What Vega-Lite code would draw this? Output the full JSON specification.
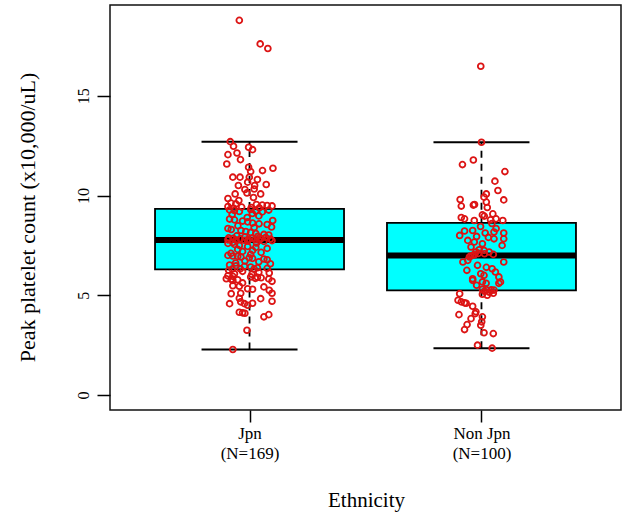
{
  "$schema": "https://vega.github.io/schema/vega-lite/v6.json",
  "width": 511,
  "height": 405,
  "autosize": {"type": "none"},
  "padding": {"left": 110, "top": 5, "right": 5, "bottom": 107},
  "background": "white",
  "config": {
    "font": "Liberation Serif",
    "view": {"stroke": "#111111", "strokeWidth": 1.5},
    "axis": {"labelFont": "Liberation Serif", "titleFont": "Liberation Serif"},
    "axisY": {
      "labelAngle": -90,
      "labelAlign": "center",
      "labelBaseline": "alphabetic",
      "labelFontSize": 16,
      "labelColor": "#000000",
      "labelPadding": 9,
      "tickSize": 13,
      "tickWidth": 1.5,
      "tickColor": "#000000",
      "domain": false,
      "grid": false,
      "titleFont": "Liberation Serif",
      "titleFontSize": 22,
      "titleFontWeight": "normal",
      "titleColor": "#000000",
      "titleAngle": -90,
      "titleX": -83,
      "titleY": 212,
      "titleAlign": "center",
      "titleBaseline": "middle"
    }
  },
  "datasets": {
    "box": [
      {"group": "Jpn", "pos": 1, "lo": 2.28, "q1": 6.3, "med": 7.77, "q3": 9.33, "hi": 12.7},
      {"group": "Non Jpn", "pos": 2, "lo": 2.35, "q1": 5.25, "med": 7.0, "q3": 8.63, "hi": 12.67}
    ],
    "pts": [
      {"group":"Jpn","pos":0.956,"value":18.78},{"group":"Jpn","pos":1.046,"value":17.6},{"group":"Jpn","pos":1.079,"value":17.37},
      {"group":"Jpn","pos":0.917,"value":12.7},{"group":"Jpn","pos":0.931,"value":12.47},{"group":"Jpn","pos":0.996,"value":12.42},
      {"group":"Jpn","pos":1.013,"value":12.3},{"group":"Jpn","pos":0.946,"value":12.13},{"group":"Jpn","pos":0.907,"value":12.05},
      {"group":"Jpn","pos":0.961,"value":11.8},{"group":"Jpn","pos":0.902,"value":11.58},{"group":"Jpn","pos":0.996,"value":11.42},
      {"group":"Jpn","pos":1.056,"value":11.25},{"group":"Jpn","pos":1.101,"value":11.37},{"group":"Jpn","pos":1.005,"value":11.2},
      {"group":"Jpn","pos":0.928,"value":10.92},{"group":"Jpn","pos":0.959,"value":10.92},{"group":"Jpn","pos":0.999,"value":10.92},
      {"group":"Jpn","pos":1.034,"value":10.8},{"group":"Jpn","pos":0.992,"value":10.67},{"group":"Jpn","pos":0.952,"value":10.5},
      {"group":"Jpn","pos":1.022,"value":10.5},{"group":"Jpn","pos":1.072,"value":10.55},{"group":"Jpn","pos":0.98,"value":10.3},
      {"group":"Jpn","pos":1.02,"value":10.33},{"group":"Jpn","pos":0.938,"value":10.08},{"group":"Jpn","pos":0.989,"value":10.13},
      {"group":"Jpn","pos":1.048,"value":10.08},{"group":"Jpn","pos":0.954,"value":9.75},{"group":"Jpn","pos":0.92,"value":9.62},
      {"group":"Jpn","pos":0.941,"value":9.58},{"group":"Jpn","pos":1.03,"value":9.55},{"group":"Jpn","pos":1.055,"value":9.52},
      {"group":"Jpn","pos":1.076,"value":9.5},{"group":"Jpn","pos":1.097,"value":9.48},{"group":"Jpn","pos":0.907,"value":9.45},
      {"group":"Jpn","pos":0.966,"value":9.42},{"group":"Jpn","pos":1.008,"value":9.4},{"group":"Jpn","pos":1.042,"value":9.38},
      {"group":"Jpn","pos":1.017,"value":9.9},{"group":"Jpn","pos":0.907,"value":9.85},{"group":"Jpn","pos":0.932,"value":9.36},
      {"group":"Jpn","pos":0.914,"value":9.28},{"group":"Jpn","pos":0.935,"value":9.25},{"group":"Jpn","pos":0.956,"value":9.2},
      {"group":"Jpn","pos":1.005,"value":9.3},{"group":"Jpn","pos":1.027,"value":9.22},{"group":"Jpn","pos":1.055,"value":9.18},
      {"group":"Jpn","pos":1.083,"value":9.27},{"group":"Jpn","pos":0.925,"value":9.05},{"group":"Jpn","pos":1.04,"value":8.98},
      {"group":"Jpn","pos":0.99,"value":8.9},{"group":"Jpn","pos":0.914,"value":8.82},{"group":"Jpn","pos":0.935,"value":8.78},
      {"group":"Jpn","pos":0.97,"value":8.72},{"group":"Jpn","pos":0.992,"value":8.68},{"group":"Jpn","pos":1.013,"value":8.62},
      {"group":"Jpn","pos":1.041,"value":8.58},{"group":"Jpn","pos":1.076,"value":8.55},{"group":"Jpn","pos":0.95,"value":8.48},
      {"group":"Jpn","pos":1.095,"value":8.42},{"group":"Jpn","pos":0.907,"value":8.35},{"group":"Jpn","pos":0.921,"value":8.3},
      {"group":"Jpn","pos":0.963,"value":8.25},{"group":"Jpn","pos":0.984,"value":8.2},{"group":"Jpn","pos":1.005,"value":8.15},
      {"group":"Jpn","pos":1.027,"value":8.1},{"group":"Jpn","pos":1.062,"value":8.05},{"group":"Jpn","pos":1.083,"value":8.02},
      {"group":"Jpn","pos":0.945,"value":7.98},{"group":"Jpn","pos":1.035,"value":7.95},{"group":"Jpn","pos":0.98,"value":7.92},
      {"group":"Jpn","pos":1.07,"value":7.9},{"group":"Jpn","pos":0.91,"value":7.88},{"group":"Jpn","pos":1.01,"value":7.86},
      {"group":"Jpn","pos":0.93,"value":7.85},{"group":"Jpn","pos":1.05,"value":7.84},{"group":"Jpn","pos":0.96,"value":7.83},
      {"group":"Jpn","pos":1.09,"value":7.82},{"group":"Jpn","pos":0.995,"value":7.81},{"group":"Jpn","pos":1.025,"value":7.8},
      {"group":"Jpn","pos":1.1,"value":8.75},{"group":"Jpn","pos":1.012,"value":9.1},{"group":"Jpn","pos":1.02,"value":8.4},
      {"group":"Jpn","pos":0.907,"value":7.78},{"group":"Jpn","pos":0.942,"value":7.77},{"group":"Jpn","pos":0.978,"value":7.76},
      {"group":"Jpn","pos":1.041,"value":7.75},{"group":"Jpn","pos":1.097,"value":7.74},{"group":"Jpn","pos":0.992,"value":7.72},
      {"group":"Jpn","pos":1.062,"value":7.7},{"group":"Jpn","pos":0.928,"value":7.65},{"group":"Jpn","pos":0.907,"value":7.6},
      {"group":"Jpn","pos":0.935,"value":7.55},{"group":"Jpn","pos":0.956,"value":7.5},{"group":"Jpn","pos":0.992,"value":7.45},
      {"group":"Jpn","pos":1.027,"value":7.4},{"group":"Jpn","pos":1.076,"value":7.35},{"group":"Jpn","pos":0.949,"value":7.3},
      {"group":"Jpn","pos":1.013,"value":7.25},{"group":"Jpn","pos":0.97,"value":7.2},{"group":"Jpn","pos":1.05,"value":7.15},
      {"group":"Jpn","pos":0.92,"value":7.1},{"group":"Jpn","pos":1.005,"value":7.05},{"group":"Jpn","pos":0.907,"value":7.0},
      {"group":"Jpn","pos":0.928,"value":6.97},{"group":"Jpn","pos":0.949,"value":6.95},{"group":"Jpn","pos":0.963,"value":6.92},
      {"group":"Jpn","pos":0.999,"value":6.88},{"group":"Jpn","pos":1.013,"value":6.85},{"group":"Jpn","pos":1.062,"value":6.82},
      {"group":"Jpn","pos":1.076,"value":6.78},{"group":"Jpn","pos":0.98,"value":6.72},{"group":"Jpn","pos":1.04,"value":6.68},
      {"group":"Jpn","pos":0.94,"value":6.62},{"group":"Jpn","pos":1.09,"value":6.58},{"group":"Jpn","pos":0.914,"value":6.52},
      {"group":"Jpn","pos":0.942,"value":6.48},{"group":"Jpn","pos":0.978,"value":6.45},{"group":"Jpn","pos":1.005,"value":6.42},
      {"group":"Jpn","pos":1.034,"value":6.38},{"group":"Jpn","pos":1.076,"value":6.35},{"group":"Jpn","pos":0.96,"value":6.33},
      {"group":"Jpn","pos":1.02,"value":6.32},{"group":"Jpn","pos":0.925,"value":6.31},{"group":"Jpn","pos":1.03,"value":7.62},
      {"group":"Jpn","pos":0.91,"value":6.25},{"group":"Jpn","pos":0.97,"value":6.2},{"group":"Jpn","pos":1.04,"value":6.15},
      {"group":"Jpn","pos":1.085,"value":6.12},{"group":"Jpn","pos":0.935,"value":6.08},{"group":"Jpn","pos":1.01,"value":6.05},
      {"group":"Jpn","pos":0.907,"value":5.98},{"group":"Jpn","pos":0.928,"value":5.95},{"group":"Jpn","pos":1.005,"value":5.92},
      {"group":"Jpn","pos":1.034,"value":5.9},{"group":"Jpn","pos":1.05,"value":5.88},{"group":"Jpn","pos":1.025,"value":5.85},
      {"group":"Jpn","pos":0.9,"value":5.83},{"group":"Jpn","pos":1.083,"value":5.82},{"group":"Jpn","pos":0.921,"value":5.8},
      {"group":"Jpn","pos":0.949,"value":5.78},{"group":"Jpn","pos":0.928,"value":5.75},{"group":"Jpn","pos":1.097,"value":5.7},
      {"group":"Jpn","pos":0.97,"value":5.62},{"group":"Jpn","pos":0.928,"value":5.48},{"group":"Jpn","pos":0.956,"value":5.45},
      {"group":"Jpn","pos":1.062,"value":5.42},{"group":"Jpn","pos":0.992,"value":5.33},{"group":"Jpn","pos":1.013,"value":5.3},
      {"group":"Jpn","pos":1.085,"value":5.25},{"group":"Jpn","pos":1.097,"value":5.1},{"group":"Jpn","pos":0.921,"value":5.08},
      {"group":"Jpn","pos":0.962,"value":5.1},{"group":"Jpn","pos":0.956,"value":4.85},{"group":"Jpn","pos":1.048,"value":4.83},
      {"group":"Jpn","pos":1.097,"value":4.7},{"group":"Jpn","pos":0.914,"value":4.58},{"group":"Jpn","pos":0.962,"value":4.67},
      {"group":"Jpn","pos":0.978,"value":4.58},{"group":"Jpn","pos":0.992,"value":4.5},{"group":"Jpn","pos":1.013,"value":4.6},
      {"group":"Jpn","pos":0.956,"value":4.15},{"group":"Jpn","pos":0.97,"value":4.12},{"group":"Jpn","pos":0.98,"value":4.1},
      {"group":"Jpn","pos":1.062,"value":3.92},{"group":"Jpn","pos":1.083,"value":4.03},{"group":"Jpn","pos":0.989,"value":3.25},
      {"group":"Jpn","pos":0.928,"value":2.28},
      {"group":"Non Jpn","pos":1.997,"value":16.48},{"group":"Non Jpn","pos":2.0,"value":12.67},{"group":"Non Jpn","pos":1.965,"value":11.78},
      {"group":"Non Jpn","pos":1.918,"value":11.55},{"group":"Non Jpn","pos":2.101,"value":11.2},{"group":"Non Jpn","pos":2.058,"value":10.72},
      {"group":"Non Jpn","pos":2.071,"value":10.25},{"group":"Non Jpn","pos":2.021,"value":10.08},{"group":"Non Jpn","pos":2.096,"value":9.78},
      {"group":"Non Jpn","pos":1.908,"value":9.8},{"group":"Non Jpn","pos":2.011,"value":9.92},{"group":"Non Jpn","pos":1.965,"value":9.52},
      {"group":"Non Jpn","pos":1.97,"value":9.55},{"group":"Non Jpn","pos":1.913,"value":9.47},{"group":"Non Jpn","pos":2.021,"value":9.67},
      {"group":"Non Jpn","pos":2.025,"value":9.4},{"group":"Non Jpn","pos":2.049,"value":9.08},{"group":"Non Jpn","pos":2.004,"value":9.03},
      {"group":"Non Jpn","pos":2.012,"value":8.97},{"group":"Non Jpn","pos":1.913,"value":8.9},{"group":"Non Jpn","pos":1.927,"value":8.83},
      {"group":"Non Jpn","pos":2.063,"value":8.83},{"group":"Non Jpn","pos":2.092,"value":8.75},{"group":"Non Jpn","pos":1.969,"value":8.75},
      {"group":"Non Jpn","pos":2.039,"value":8.78},{"group":"Non Jpn","pos":2.045,"value":8.6},{"group":"Non Jpn","pos":1.927,"value":8.22},
      {"group":"Non Jpn","pos":1.906,"value":8.0},{"group":"Non Jpn","pos":1.962,"value":8.25},{"group":"Non Jpn","pos":2.016,"value":8.12},
      {"group":"Non Jpn","pos":2.054,"value":8.17},{"group":"Non Jpn","pos":2.096,"value":8.12},{"group":"Non Jpn","pos":2.096,"value":7.83},
      {"group":"Non Jpn","pos":1.941,"value":7.75},{"group":"Non Jpn","pos":1.969,"value":7.67},{"group":"Non Jpn","pos":2.004,"value":7.58},
      {"group":"Non Jpn","pos":2.054,"value":7.83},{"group":"Non Jpn","pos":2.089,"value":7.5},{"group":"Non Jpn","pos":1.955,"value":7.42},
      {"group":"Non Jpn","pos":1.99,"value":7.28},{"group":"Non Jpn","pos":2.011,"value":7.25},{"group":"Non Jpn","pos":1.976,"value":7.17},
      {"group":"Non Jpn","pos":2.033,"value":7.17},{"group":"Non Jpn","pos":1.987,"value":7.1},{"group":"Non Jpn","pos":2.013,"value":7.08},
      {"group":"Non Jpn","pos":2.051,"value":7.05},{"group":"Non Jpn","pos":1.97,"value":7.03},{"group":"Non Jpn","pos":1.996,"value":8.45},
      {"group":"Non Jpn","pos":2.063,"value":8.35},{"group":"Non Jpn","pos":1.979,"value":7.95},{"group":"Non Jpn","pos":2.03,"value":7.9},
      {"group":"Non Jpn","pos":1.962,"value":7.0},{"group":"Non Jpn","pos":1.954,"value":6.98},{"group":"Non Jpn","pos":1.948,"value":6.92},
      {"group":"Non Jpn","pos":1.941,"value":6.75},{"group":"Non Jpn","pos":1.92,"value":6.67},{"group":"Non Jpn","pos":1.983,"value":6.5},
      {"group":"Non Jpn","pos":2.096,"value":6.67},{"group":"Non Jpn","pos":2.046,"value":6.33},{"group":"Non Jpn","pos":2.06,"value":6.17},
      {"group":"Non Jpn","pos":1.997,"value":6.08},{"group":"Non Jpn","pos":2.011,"value":6.0},{"group":"Non Jpn","pos":1.962,"value":5.83},
      {"group":"Non Jpn","pos":2.075,"value":5.92},{"group":"Non Jpn","pos":2.082,"value":5.67},{"group":"Non Jpn","pos":2.004,"value":5.67},
      {"group":"Non Jpn","pos":1.962,"value":5.75},{"group":"Non Jpn","pos":2.02,"value":5.6},{"group":"Non Jpn","pos":2.075,"value":5.6},
      {"group":"Non Jpn","pos":2.004,"value":5.3},{"group":"Non Jpn","pos":2.021,"value":5.28},{"group":"Non Jpn","pos":2.042,"value":5.27},
      {"group":"Non Jpn","pos":2.054,"value":5.26},{"group":"Non Jpn","pos":2.021,"value":6.4},{"group":"Non Jpn","pos":1.937,"value":6.25},
      {"group":"Non Jpn","pos":1.979,"value":5.5},{"group":"Non Jpn","pos":2.013,"value":5.2},{"group":"Non Jpn","pos":2.034,"value":5.15},
      {"group":"Non Jpn","pos":2.051,"value":5.1},{"group":"Non Jpn","pos":2.004,"value":5.05},{"group":"Non Jpn","pos":2.025,"value":5.0},
      {"group":"Non Jpn","pos":1.906,"value":5.08},{"group":"Non Jpn","pos":1.899,"value":4.75},{"group":"Non Jpn","pos":1.913,"value":4.67},
      {"group":"Non Jpn","pos":1.927,"value":4.62},{"group":"Non Jpn","pos":1.934,"value":4.6},{"group":"Non Jpn","pos":1.962,"value":4.45},
      {"group":"Non Jpn","pos":1.976,"value":4.17},{"group":"Non Jpn","pos":1.903,"value":4.03},{"group":"Non Jpn","pos":1.955,"value":3.83},
      {"group":"Non Jpn","pos":1.973,"value":4.08},{"group":"Non Jpn","pos":2.004,"value":3.92},{"group":"Non Jpn","pos":2.001,"value":3.67},
      {"group":"Non Jpn","pos":1.997,"value":3.5},{"group":"Non Jpn","pos":1.938,"value":3.53},{"group":"Non Jpn","pos":1.927,"value":3.28},
      {"group":"Non Jpn","pos":2.011,"value":3.12},{"group":"Non Jpn","pos":2.051,"value":3.08},{"group":"Non Jpn","pos":1.983,"value":2.5},
      {"group":"Non Jpn","pos":2.046,"value":2.35}
    ]
  },
  "encoding": {
    "x": {
      "field": "pos",
      "type": "quantitative",
      "scale": {"domain": [0.42, 2.58], "nice": false, "zero": false},
      "axis": {
        "values": [1, 2],
        "labelExpr": "datum.value == 1 ? ['Jpn', '(N=169)'] : ['Non Jpn', '(N=100)']",
        "labelFont": "Liberation Serif",
        "labelFontSize": 17,
        "labelLineHeight": 20,
        "labelColor": "#000000",
        "labelPadding": 3,
        "labelOverlap": false,
        "labelFlush": false,
        "tickSize": 12,
        "tickWidth": 1.5,
        "tickColor": "#000000",
        "domain": false,
        "grid": false,
        "title": "Ethnicity",
        "titleFont": "Liberation Serif",
        "titleFontSize": 21,
        "titleFontWeight": "normal",
        "titleColor": "#000000",
        "titleX": 256,
        "titleY": 96,
        "titleAlign": "center",
        "titleBaseline": "alphabetic"
      }
    }
  },
  "layer": [
    {
      "data": {"name": "box"},
      "mark": {"type": "rule", "strokeDash": [7, 6], "strokeWidth": 1.8, "color": "#000000"},
      "encoding": {
        "y": {"field": "lo", "type": "quantitative", "scale": {"domain": [-0.75, 19.55], "nice": false, "zero": false}, "axis": {"values": [0, 5, 10, 15], "title": "Peak platelet count (x10,000/uL)"}},
        "y2": {"field": "q1"}
      }
    },
    {
      "data": {"name": "box"},
      "mark": {"type": "rule", "strokeDash": [7, 6], "strokeWidth": 1.8, "color": "#000000"},
      "encoding": {
        "y": {"field": "q3", "type": "quantitative", "scale": {"domain": [-0.75, 19.55], "nice": false, "zero": false}, "axis": {"values": [0, 5, 10, 15], "title": "Peak platelet count (x10,000/uL)"}},
        "y2": {"field": "hi"}
      }
    },
    {
      "data": {"name": "box"},
      "mark": {"type": "bar", "width": 189, "fill": "#00FFFF", "stroke": "#000000", "strokeWidth": 1.8, "opacity": 1},
      "encoding": {
        "y": {"field": "q1", "type": "quantitative", "scale": {"domain": [-0.75, 19.55], "nice": false, "zero": false}, "axis": {"values": [0, 5, 10, 15], "title": "Peak platelet count (x10,000/uL)"}},
        "y2": {"field": "q3"}
      }
    },
    {
      "data": {"name": "box"},
      "mark": {"type": "tick", "orient": "horizontal", "size": 189, "thickness": 6, "color": "#000000", "opacity": 1},
      "encoding": {
        "y": {"field": "med", "type": "quantitative", "scale": {"domain": [-0.75, 19.55], "nice": false, "zero": false}, "axis": {"values": [0, 5, 10, 15], "title": "Peak platelet count (x10,000/uL)"}}
      }
    },
    {
      "data": {"name": "box"},
      "mark": {"type": "tick", "orient": "horizontal", "size": 96, "thickness": 2, "color": "#000000", "opacity": 1},
      "encoding": {
        "y": {"field": "lo", "type": "quantitative", "scale": {"domain": [-0.75, 19.55], "nice": false, "zero": false}, "axis": {"values": [0, 5, 10, 15], "title": "Peak platelet count (x10,000/uL)"}}
      }
    },
    {
      "data": {"name": "box"},
      "mark": {"type": "tick", "orient": "horizontal", "size": 96, "thickness": 2, "color": "#000000", "opacity": 1},
      "encoding": {
        "y": {"field": "hi", "type": "quantitative", "scale": {"domain": [-0.75, 19.55], "nice": false, "zero": false}, "axis": {"values": [0, 5, 10, 15], "title": "Peak platelet count (x10,000/uL)"}}
      }
    },
    {
      "data": {"name": "pts"},
      "mark": {"type": "point", "shape": "circle", "filled": false, "color": "#dc1414", "strokeWidth": 1.8, "size": 34, "opacity": 1},
      "encoding": {
        "y": {"field": "value", "type": "quantitative", "scale": {"domain": [-0.75, 19.55], "nice": false, "zero": false}, "axis": {"values": [0, 5, 10, 15], "title": "Peak platelet count (x10,000/uL)"}}
      }
    }
  ]
}
